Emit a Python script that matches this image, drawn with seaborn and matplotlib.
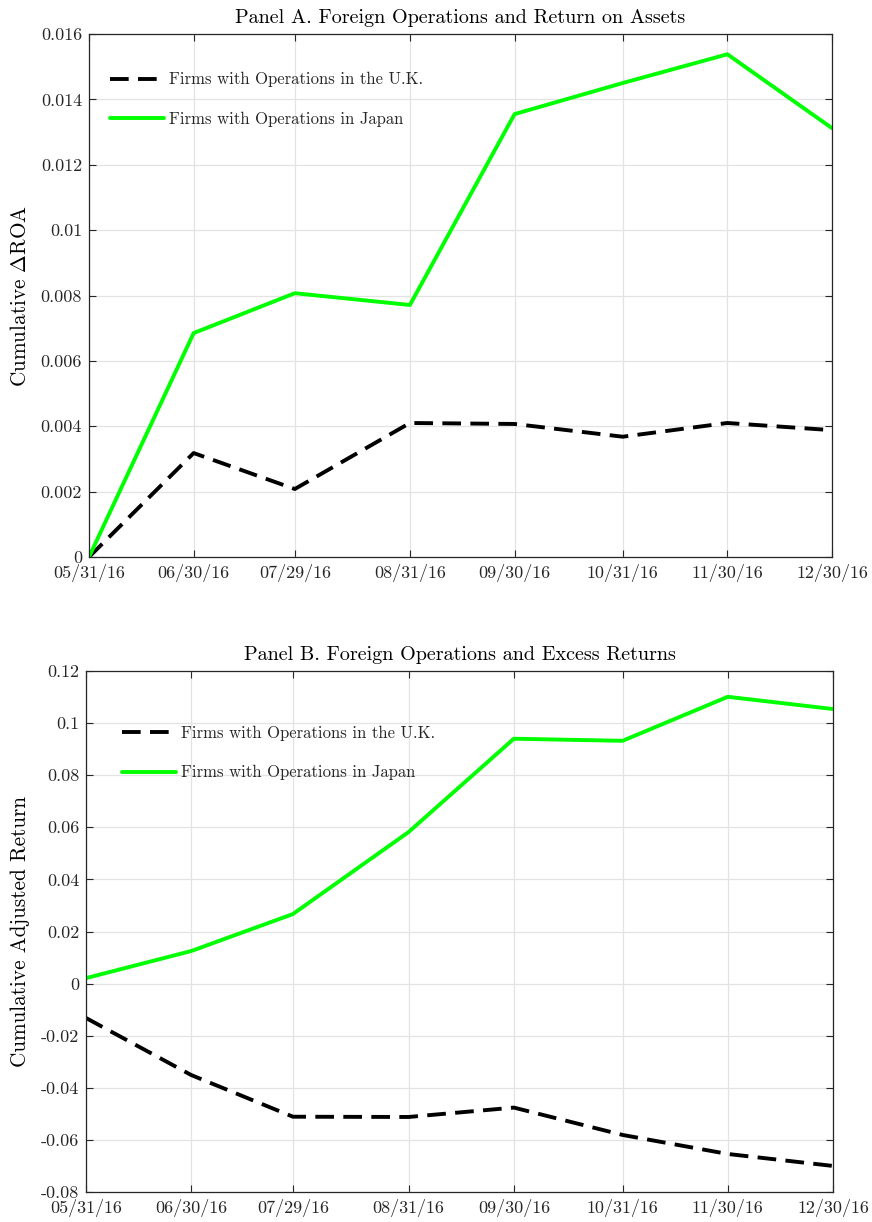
import pandas as pd
import matplotlib.pyplot as plt
import matplotlib.dates as mdates
import matplotlib.ticker as mticker
import seaborn as sns

# data
dates = ["2016-05-31", "2016-06-30", "2016-07-29", "2016-08-31",
         "2016-09-30", "2016-10-31", "2016-11-30", "2016-12-30"]
uk_label = "Firms with Operations in the U.K."
jp_label = "Firms with Operations in Japan"

roa_uk = [0.0, 0.00318, 0.00208, 0.00410, 0.00407, 0.00368, 0.00410, 0.00388]
roa_jp = [0.0, 0.00685, 0.00807, 0.00771, 0.01355, 0.01450, 0.01538, 0.01312]

ret_uk = [-0.0132, -0.0351, -0.0511, -0.0512, -0.0476, -0.0581, -0.0654, -0.0700]
ret_jp = [0.0021, 0.0125, 0.0267, 0.0582, 0.0940, 0.0932, 0.1101, 0.1054]


def make_df(uk, jp):
    d = pd.to_datetime(dates)
    return pd.concat([
        pd.DataFrame({"date": d, "value": uk, "series": uk_label}),
        pd.DataFrame({"date": d, "value": jp, "series": jp_label}),
    ], ignore_index=True)


sns.set_theme(style="whitegrid")
plt.rcParams["font.family"] = ["cmr10"]
plt.rcParams["mathtext.fontset"] = "cm"
plt.rcParams["axes.unicode_minus"] = False

ink = "#262626"
palette = {uk_label: "black", jp_label: "#00ff00"}
dashes = {uk_label: (4.8, 2.4), jp_label: ""}

fig = plt.figure(figsize=(8.72, 12.22), dpi=100)
W, H = 872, 1222
axA = fig.add_axes([89 / W, 1 - 557 / H, (832 - 89) / W, (557 - 34) / H])
axB = fig.add_axes([86 / W, 1 - 1192 / H, (833 - 86) / W, (1192 - 671) / H])

panels = [
    (axA, make_df(roa_uk, roa_jp), "Panel A. Foreign Operations and Return on Assets",
     r"Cumulative $\Delta$ROA", (0, 0.016), 0.002, (0.028, 0.927)),
    (axB, make_df(ret_uk, ret_jp), "Panel B. Foreign Operations and Excess Returns",
     "Cumulative Adjusted Return", (-0.08, 0.12), 0.02, (0.048, 0.895)),
]

for ax, df, title, ylabel, ylim, step, anchor in panels:
    sns.lineplot(data=df, x="date", y="value", hue="series", style="series",
                 hue_order=[uk_label, jp_label], palette=palette, dashes=dashes,
                 linewidth=2.8, ax=ax)
    handles, labels = ax.get_legend_handles_labels()
    ax.legend(handles, labels, loc="upper left", bbox_to_anchor=anchor,
              frameon=False, fontsize=12, handlelength=3.25, handletextpad=0.3,
              labelspacing=1.45, borderpad=0, borderaxespad=0)

    d = pd.to_datetime(dates)
    ax.set_xlim(d[0], d[-1])
    ax.set_xticks(d)
    ax.xaxis.set_major_formatter(mdates.DateFormatter("%m/%d/%y"))
    ax.set_ylim(*ylim)
    ax.yaxis.set_major_locator(mticker.MultipleLocator(step))
    ax.yaxis.set_major_formatter(mticker.FuncFormatter(lambda v, p: f"{round(v, 6):g}"))

    ax.set_title(title, fontsize=14.5, color="black", pad=8)
    ax.set_ylabel(ylabel, fontsize=15.3, color="black", labelpad=8)
    ax.set_xlabel("")

    ax.set_facecolor("white")
    ax.grid(True, color="#e3e3e3", linewidth=0.9)
    for s in ax.spines.values():
        s.set_visible(True)
        s.set_color(ink)
        s.set_linewidth(0.9)
    ax.tick_params(direction="in", top=True, right=True, length=5, width=0.8,
                   color=ink, labelcolor=ink, labelsize=13, pad=5,
                   bottom=True, left=True)

fig.savefig("out.png", dpi=100, facecolor="white")
